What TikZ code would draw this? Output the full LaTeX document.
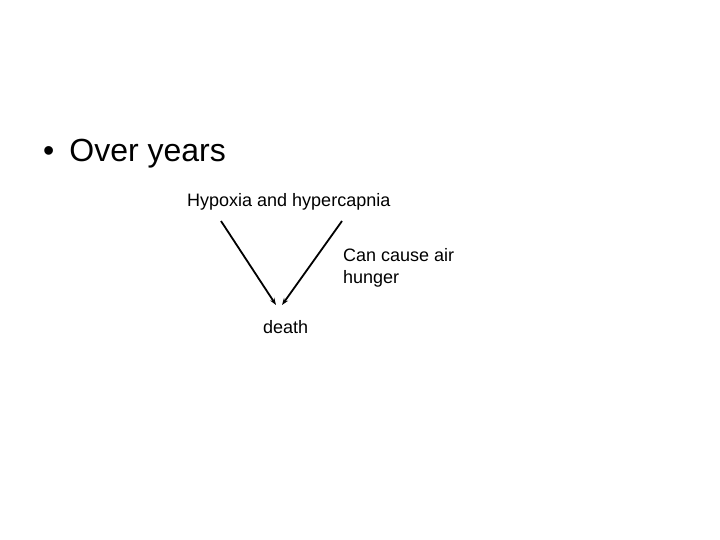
\documentclass[tikz,border=0pt]{standalone}
\usepackage{fontspec}
\setmainfont{Liberation Sans}
\usetikzlibrary{arrows.meta}
\begin{document}
\begin{tikzpicture}[x=1pt,y=-1pt,
  txt/.style={inner sep=0pt,anchor=base west,font=\fontsize{18}{22}\selectfont},
  conn/.style={line width=1.8pt,-{Stealth[length=7pt,width=5pt]}}]
\useasboundingbox[fill=white] (0,0) rectangle (720,540);
\node[txt,font=\fontsize{32}{38}\selectfont] (bullet) at (43,162) {•\hspace{15pt}Over years};
\node[txt] (hyp) at (187,207) {Hypoxia and hypercapnia};
\node[txt,align=left] (air) at (343,283) {Can cause air\\hunger};
\node[txt] (death) at (263,333) {death};
\coordinate (ls) at (221,221);
\coordinate (le) at (276,305);
\coordinate (rs) at (342,221);
\coordinate (re) at (282,305);
\draw[conn] (ls) -- (le);
\draw[conn] (rs) -- (re);
\end{tikzpicture}
\end{document}
